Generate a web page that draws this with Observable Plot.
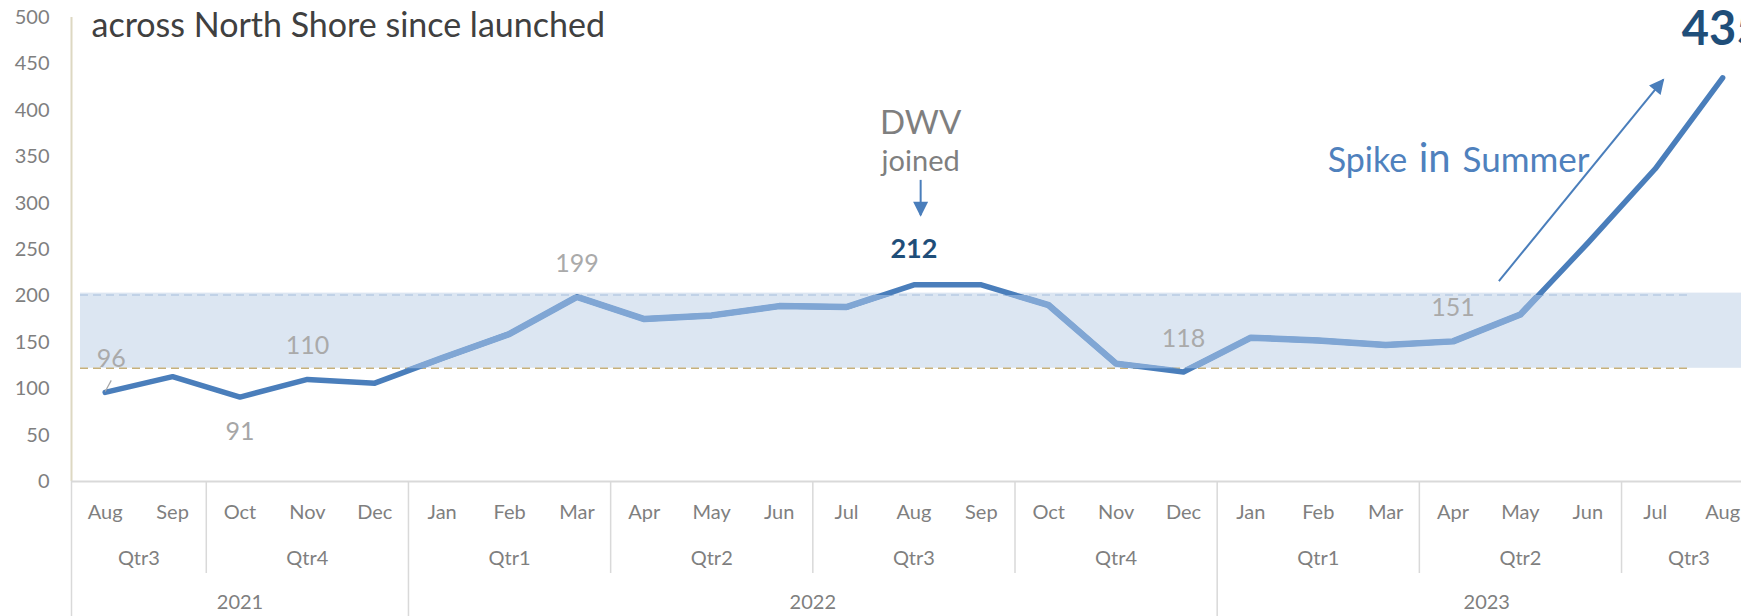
<!DOCTYPE html>
<html><head><meta charset="utf-8">
<script src="https://cdn.jsdelivr.net/npm/d3@7"></script>
<script src="https://cdn.jsdelivr.net/npm/@observablehq/plot@0.6"></script>
<style>
html,body{margin:0;padding:0;background:#fff;overflow:hidden;}
</style></head><body><div id="chart"></div>
<script>
// ---- data ----
const months = ["Aug","Sep","Oct","Nov","Dec","Jan","Feb","Mar","Apr","May","Jun","Jul","Aug","Sep","Oct","Nov","Dec","Jan","Feb","Mar","Apr","May","Jun","Jul","Aug"];
const quarters = ["Qtr3","Qtr3","Qtr4","Qtr4","Qtr4","Qtr1","Qtr1","Qtr1","Qtr2","Qtr2","Qtr2","Qtr3","Qtr3","Qtr3","Qtr4","Qtr4","Qtr4","Qtr1","Qtr1","Qtr1","Qtr2","Qtr2","Qtr2","Qtr3","Qtr3"];
const years = [2021,2021,2021,2021,2021,2022,2022,2022,2022,2022,2022,2022,2022,2022,2022,2022,2022,2023,2023,2023,2023,2023,2023,2023,2023];
const values = [96,113,91,110,106,133,159,199,175,179,189,188,212,212,190,127,118,155,152,147,151,180,257,337,435];
const yTicks = [0,50,100,150,200,250,300,350,400,450,500];
const bandRange = [122, 203];       // shaded normal range
const upperLine = 201;              // dashed upper line
const lowerLine = 122;              // dashed lower line
const title = "across North Shore since launched";
const firstLabel = [0];
const greyAbove = [3, 7, 16, 20];
const greyBelow = [2];
const boldLabel = [12];
const bigLabel = [24];
const notes = [{x: 12.1, y: 375, t: "DWV", size: 33}, {x: 12.1, y: 335, t: "joined", size: 29}];
const spikeText = [{x: 18.14, y: 333, t: "Spike", size: 34}, {x: 19.49, y: 333, t: "in", size: 40}, {x: 20.14, y: 333, t: "Summer", size: 35}];
const arrows = [{x1: 12.1, y1: 325, x2: 12.1, y2: 287}, {x1: 20.68, y1: 216, x2: 23.12, y2: 433}];
const leader = [{x1: 0, y1: 97, x2: 0.09, y2: 109}];

// ---- derived tables ----
const data = months.map((m, i) => ({i, month: m, quarter: quarters[i], year: years[i], value: values[i]}));
function runs(keyFn, labelFn) {
  const out = [];
  data.forEach(d => {
    const k = keyFn(d), last = out[out.length - 1];
    if (last && last.key === k) last.end = d.i;
    else out.push({key: k, label: labelFn(d), start: d.i, end: d.i});
  });
  return out;
}
const qRuns = runs(d => d.year + d.quarter, d => d.quarter);
const yRuns = runs(d => d.year, d => String(d.year));
const yBounds = yRuns.slice(1).map(r => r.start - 0.5);
const qBounds = qRuns.slice(1).map(r => r.start - 0.5).filter(b => !yBounds.includes(b));
const pick = idx => idx.map(i => data[i]);

const dark = "#4a7ebb", light = "#80a6d4";
function triangle(color) {
  const m = d3.create("svg:marker")
    .attr("viewBox", "0 0 10 10").attr("refX", 9).attr("refY", 5)
    .attr("markerWidth", 16).attr("markerHeight", 15)
    .attr("markerUnits", "userSpaceOnUse").attr("orient", "auto");
  m.append("path").attr("d", "M0,0L10,5L0,10Z").attr("fill", color).attr("stroke", "none");
  return m.node();
}
const labelText = d => String(d.value);

const chart = Plot.plot({
  width: 1741,
  height: 616,
  marginTop: 17,
  marginBottom: 135,
  marginLeft: 71,
  marginRight: 0,
  style: {fontFamily: "Lato, sans-serif", fontSize: "20px", color: "#7f7f7f", background: "#fff"},
  x: {type: "linear", domain: [-0.5, 24.28], axis: null},
  y: {domain: [0, 500], ticks: yTicks, tickSize: 0, tickPadding: 22, label: null},
  marks: [
    Plot.rect([{lo: bandRange[0], hi: bandRange[1]}], {y1: "lo", y2: "hi", fill: "#dce6f2", insetLeft: 9}),
    Plot.ruleY([upperLine], {stroke: "#b8cce4", strokeWidth: 1.5, strokeDasharray: "8,5", insetLeft: 9, insetRight: 53}),
    Plot.ruleY([lowerLine], {stroke: "#c6b07a", strokeWidth: 1.5, strokeDasharray: "8,5", insetLeft: 9, insetRight: 53}),
    Plot.ruleX([-0.5], {stroke: "#ddd8c2", strokeWidth: 2}),
    Plot.ruleY([0], {stroke: "#d9d9d9", strokeWidth: 2}),
    Plot.ruleX([-0.5, ...yBounds], {y1: 0, y2: 0, insetBottom: -135, stroke: "#d9d9d9", strokeWidth: 1.5}),
    Plot.ruleX(qBounds, {y1: 0, y2: 0, insetBottom: -92, stroke: "#d9d9d9", strokeWidth: 1.5}),
    Plot.text(data, {x: "i", text: "month", frameAnchor: "bottom", dy: 37, fill: "#7f7f7f", fontSize: 20}),
    Plot.text(qRuns, {x: d => (d.start + d.end) / 2, text: "label", frameAnchor: "bottom", dy: 83, fill: "#7f7f7f", fontSize: 20}),
    Plot.text(yRuns, {x: d => (d.start + d.end) / 2, text: "label", frameAnchor: "bottom", dy: 127, fill: "#7f7f7f", fontSize: 20}),
    Plot.line(data, {x: "i", y: "value", stroke: dark, strokeWidth: 5.5, strokeLinecap: "round", strokeLinejoin: "round"}),
    Plot.line(data, {x: "i", y: "value", stroke: light, strokeWidth: 6.5, strokeLinejoin: "round"}),
    Plot.link(leader, {x1: "x1", y1: "y1", x2: "x2", y2: "y2", stroke: "#a6a6a6", strokeWidth: 1.2}),
    Plot.text(pick(firstLabel), {x: "i", y: "value", text: labelText, dy: -33, dx: 6, fill: "#aaaaaa", fontSize: 25}),
    Plot.text(pick(greyAbove), {x: "i", y: "value", text: labelText, dy: -33, fill: "#aaaaaa", fontSize: 25}),
    Plot.text(pick(greyBelow), {x: "i", y: "value", text: labelText, dy: 35, fill: "#a6a6a6", fontSize: 25}),
    Plot.text(pick(boldLabel), {x: "i", y: "value", text: labelText, dy: -35, fill: "#1f4e79", fontSize: 27, fontWeight: "bold"}),
    Plot.text(pick(bigLabel), {x: "i", y: "value", text: labelText, dy: -48, fill: "#1f4e79", fontSize: 47, fontWeight: "bold"}),
    Plot.text([title], {text: d => d, frameAnchor: "top-left", dx: 20, dy: 19, lineAnchor: "bottom", textAnchor: "start", fontSize: 34, fill: "#404040"}),
    Plot.text(notes, {x: "x", y: "y", text: "t", fontSize: d => d.size, lineAnchor: "bottom", fill: "#7f7f7f"}),
    Plot.text(spikeText, {x: "x", y: "y", text: "t", fontSize: d => d.size, lineAnchor: "bottom", textAnchor: "start", fill: "#4f81bd"}),
    Plot.link(arrows, {x1: "x1", y1: "y1", x2: "x2", y2: "y2", stroke: dark, strokeWidth: 2, markerEnd: triangle})
  ]
});

// clip the lighter copy of the line to the normal range, so the line turns light inside the band
const yd = chart.scale("y");
const yPix = d3.scaleLinear(yd.domain, yd.range);
const svg = d3.select(chart);
svg.append("defs").append("clipPath").attr("id", "band-clip")
  .append("rect").attr("x", 0).attr("width", 1741)
  .attr("y", yPix(upperLine)).attr("height", yPix(lowerLine) - yPix(upperLine));
const lineGroups = svg.selectAll('g[aria-label="line"]').nodes();
if (lineGroups.length > 1) d3.select(lineGroups[1]).attr("clip-path", "url(#band-clip)");

document.getElementById("chart").appendChild(chart);
</script>
</body></html>
